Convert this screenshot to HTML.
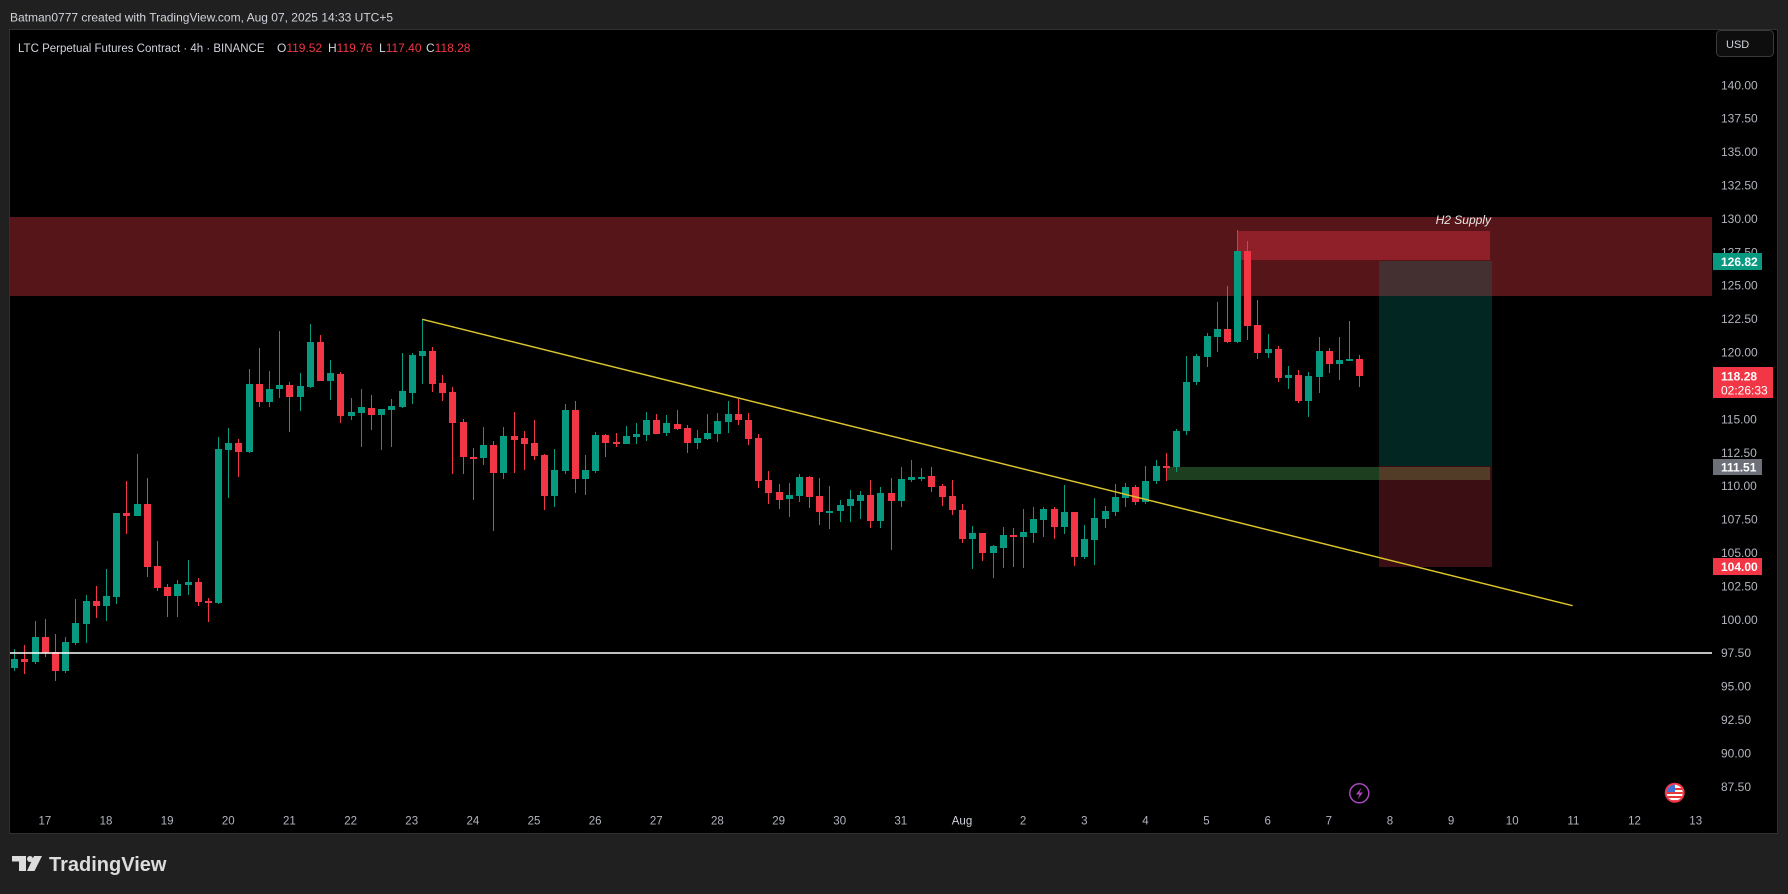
<!DOCTYPE html>
<html><head><meta charset="utf-8"><style>
html,body{margin:0;padding:0;background:#202020;width:1788px;height:894px;overflow:hidden}
svg{display:block}
</style></head><body>
<svg width="1788" height="894" viewBox="0 0 1788 894" xmlns="http://www.w3.org/2000/svg" font-family="'Liberation Sans', Arial, sans-serif">
<rect width="1788" height="894" fill="#202020"/>
<text x="10" y="21.5" font-size="12" fill="#d1d4dc">Batman0777 created with TradingView.com, Aug 07, 2025 14:33 UTC+5</text>
<rect x="9.5" y="29.5" width="1768" height="804" fill="#000" stroke="#313131"/>

<!-- zones -->
<rect x="10" y="217" width="1702" height="79" fill="rgb(86,21,24)"/>
<rect x="1237" y="231" width="253" height="29" fill="rgb(143,32,41)"/>
<rect x="1379" y="261" width="113" height="205" fill="rgb(2,38,34)"/>
<rect x="1379" y="261" width="113" height="35" fill="rgb(68,48,48)"/>
<rect x="1379" y="466" width="113" height="101" fill="rgb(58,14,18)"/>
<rect x="1166" y="467" width="324" height="13" fill="rgb(30,62,32)"/>
<rect x="1379" y="467" width="111" height="13" fill="rgb(82,60,40)"/>
<text x="1491" y="224" font-size="12" font-style="italic" fill="#e6e6e6" text-anchor="end">H2 Supply</text>

<!-- green candles -->
<path fill="#089981" d="M14 649h1v22h-1zM11 659h7v9h-7zM35 621h1v43h-1zM32 637h7v25h-7zM65 637h1v36h-1zM62 642h7v29h-7zM75 599h1v46h-1zM72 623h7v20h-7zM86 595h1v48h-1zM83 601h7v23h-7zM106 569h1v52h-1zM103 596h7v10h-7zM116 513h1v91h-1zM113 513h7v84h-7zM137 454h1v62h-1zM134 504h7v12h-7zM177 580h1v37h-1zM174 584h7v12h-7zM188 560h1v35h-1zM185 582h7v3h-7zM218 437h1v167h-1zM215 449h7v154h-7zM228 428h1v70h-1zM225 443h7v7h-7zM249 369h1v84h-1zM246 384h7v68h-7zM269 371h1v36h-1zM266 389h7v13h-7zM279 331h1v67h-1zM276 385h7v4h-7zM300 373h1v38h-1zM297 386h7v11h-7zM310 324h1v64h-1zM307 342h7v45h-7zM330 360h1v40h-1zM327 373h7v8h-7zM351 398h1v22h-1zM348 412h7v4h-7zM361 389h1v58h-1zM358 407h7v6h-7zM381 409h1v41h-1zM378 409h7v6h-7zM391 399h1v48h-1zM388 406h7v4h-7zM402 353h1v55h-1zM399 391h7v16h-7zM412 353h1v51h-1zM409 355h7v38h-7zM422 319h1v65h-1zM419 351h7v5h-7zM483 427h1v38h-1zM480 445h7v13h-7zM503 427h1v52h-1zM500 436h7v37h-7zM554 449h1v58h-1zM551 470h7v26h-7zM565 404h1v70h-1zM562 410h7v61h-7zM585 455h1v40h-1zM582 470h7v9h-7zM595 432h1v41h-1zM592 435h7v36h-7zM626 426h1v18h-1zM623 436h7v8h-7zM636 423h1v21h-1zM633 434h7v3h-7zM646 412h1v29h-1zM643 420h7v15h-7zM666 415h1v21h-1zM663 423h7v10h-7zM697 430h1v19h-1zM694 438h7v5h-7zM707 414h1v26h-1zM704 433h7v6h-7zM717 413h1v29h-1zM714 421h7v13h-7zM728 401h1v32h-1zM725 414h7v8h-7zM789 483h1v34h-1zM786 495h7v4h-7zM799 474h1v28h-1zM796 477h7v19h-7zM829 486h1v43h-1zM826 511h7v2h-7zM840 500h1v22h-1zM837 505h7v6h-7zM850 490h1v32h-1zM847 499h7v7h-7zM860 491h1v28h-1zM857 495h7v6h-7zM880 487h1v41h-1zM877 493h7v28h-7zM901 467h1v40h-1zM898 479h7v22h-7zM911 460h1v22h-1zM908 477h7v3h-7zM921 468h1v13h-1zM918 477h7v2h-7zM972 526h1v43h-1zM969 533h7v6h-7zM993 545h1v33h-1zM990 546h7v7h-7zM1003 527h1v41h-1zM1000 535h7v13h-7zM1023 509h1v59h-1zM1020 532h7v5h-7zM1033 507h1v36h-1zM1030 519h7v14h-7zM1043 507h1v30h-1zM1040 509h7v11h-7zM1064 485h1v49h-1zM1061 512h7v15h-7zM1084 525h1v34h-1zM1081 539h7v18h-7zM1094 498h1v67h-1zM1091 518h7v22h-7zM1105 506h1v22h-1zM1102 511h7v8h-7zM1115 484h1v32h-1zM1112 497h7v15h-7zM1125 483h1v24h-1zM1122 487h7v11h-7zM1145 466h1v38h-1zM1142 481h7v21h-7zM1156 460h1v24h-1zM1153 466h7v15h-7zM1176 429h1v43h-1zM1173 431h7v36h-7zM1186 356h1v79h-1zM1183 382h7v49h-7zM1196 354h1v31h-1zM1193 356h7v26h-7zM1207 333h1v34h-1zM1204 336h7v21h-7zM1217 302h1v50h-1zM1214 329h7v8h-7zM1237 230h1v113h-1zM1234 251h7v91h-7zM1268 334h1v24h-1zM1265 349h7v4h-7zM1288 366h1v23h-1zM1285 375h7v3h-7zM1308 372h1v45h-1zM1305 376h7v25h-7zM1319 337h1v56h-1zM1316 351h7v26h-7zM1339 337h1v43h-1zM1336 360h7v4h-7zM1349 321h1v40h-1zM1346 359h7v2h-7z"/>

<!-- red candles -->
<path fill="#f23645" d="M24 645h1v29h-1zM21 659h7v3h-7zM45 619h1v38h-1zM42 637h7v16h-7zM55 634h1v47h-1zM52 652h7v19h-7zM96 586h1v32h-1zM93 601h7v5h-7zM126 481h1v53h-1zM123 513h7v3h-7zM147 478h1v99h-1zM144 504h7v63h-7zM157 541h1v50h-1zM154 566h7v22h-7zM167 584h1v33h-1zM164 587h7v9h-7zM198 578h1v28h-1zM195 582h7v20h-7zM208 598h1v24h-1zM205 601h7v2h-7zM238 439h1v38h-1zM235 443h7v9h-7zM259 348h1v59h-1zM256 384h7v18h-7zM289 382h1v50h-1zM286 385h7v12h-7zM320 335h1v46h-1zM317 342h7v39h-7zM340 372h1v51h-1zM337 374h7v42h-7zM371 395h1v35h-1zM368 408h7v7h-7zM432 347h1v45h-1zM429 351h7v33h-7zM442 375h1v26h-1zM439 383h7v10h-7zM452 387h1v87h-1zM449 392h7v31h-7zM463 419h1v55h-1zM460 422h7v35h-7zM473 448h1v52h-1zM470 457h7v2h-7zM493 441h1v90h-1zM490 445h7v28h-7zM514 412h1v61h-1zM511 436h7v4h-7zM524 431h1v39h-1zM521 438h7v6h-7zM534 420h1v40h-1zM531 443h7v13h-7zM544 454h1v56h-1zM541 455h7v41h-7zM575 401h1v92h-1zM572 410h7v69h-7zM605 434h1v23h-1zM602 435h7v8h-7zM616 433h1v14h-1zM613 442h7v2h-7zM656 414h1v20h-1zM653 420h7v14h-7zM677 410h1v20h-1zM674 424h7v5h-7zM687 425h1v28h-1zM684 428h7v15h-7zM738 399h1v26h-1zM735 414h7v6h-7zM748 413h1v32h-1zM745 420h7v19h-7zM758 434h1v54h-1zM755 438h7v43h-7zM768 471h1v33h-1zM765 480h7v13h-7zM779 484h1v25h-1zM776 492h7v8h-7zM809 476h1v32h-1zM806 477h7v20h-7zM819 478h1v47h-1zM816 496h7v16h-7zM870 480h1v48h-1zM867 495h7v26h-7zM891 478h1v72h-1zM888 493h7v8h-7zM931 467h1v25h-1zM928 476h7v11h-7zM942 484h1v22h-1zM939 486h7v11h-7zM952 480h1v35h-1zM949 496h7v14h-7zM962 504h1v39h-1zM959 510h7v29h-7zM982 533h1v28h-1zM979 533h7v20h-7zM1013 528h1v39h-1zM1010 535h7v2h-7zM1054 507h1v32h-1zM1051 509h7v18h-7zM1074 512h1v54h-1zM1071 512h7v45h-7zM1135 485h1v20h-1zM1132 487h7v15h-7zM1166 453h1v28h-1zM1163 466h7v2h-7zM1227 286h1v57h-1zM1224 329h7v13h-7zM1247 241h1v99h-1zM1244 251h7v75h-7zM1257 300h1v59h-1zM1254 325h7v28h-7zM1278 346h1v36h-1zM1275 349h7v29h-7zM1298 370h1v33h-1zM1295 375h7v26h-7zM1329 348h1v25h-1zM1326 351h7v13h-7zM1359 355h1v32h-1zM1356 359h7v17h-7z"/>

<!-- lines -->
<line x1="422.3" y1="319.3" x2="1572.6" y2="605.7" stroke="#dcc52b" stroke-width="1.5"/>
<line x1="10" y1="653" x2="1712" y2="653" stroke="#ffffff" stroke-width="1.5"/>

<!-- legend -->
<g font-size="12" fill="#d1d4dc">
<text x="18" y="52" font-size="11.5">LTC Perpetual Futures Contract · 4h · BINANCE</text>
<text x="277" y="52">O<tspan fill="#f23645">119.52</tspan></text>
<text x="328" y="52">H<tspan fill="#f23645">119.76</tspan></text>
<text x="379" y="52">L<tspan fill="#f23645">117.40</tspan></text>
<text x="426" y="52">C<tspan fill="#f23645">118.28</tspan></text>
</g>

<!-- USD -->
<rect x="1716.5" y="30.5" width="57" height="26" rx="4" fill="#0e0e0e" stroke="#3a3a3a"/>
<text x="1726" y="48" font-size="11" fill="#d1d4dc">USD</text>

<!-- price axis -->
<g font-size="12" fill="#b2b5be">
<text x="1721" y="89.3">140.00</text>
<text x="1721" y="122.7">137.50</text>
<text x="1721" y="156.1">135.00</text>
<text x="1721" y="189.5">132.50</text>
<text x="1721" y="222.9">130.00</text>
<text x="1721" y="256.3">127.50</text>
<text x="1721" y="289.7">125.00</text>
<text x="1721" y="323.1">122.50</text>
<text x="1721" y="356.5">120.00</text>
<text x="1721" y="389.9">117.50</text>
<text x="1721" y="423.4">115.00</text>
<text x="1721" y="456.8">112.50</text>
<text x="1721" y="490.2">110.00</text>
<text x="1721" y="523.6">107.50</text>
<text x="1721" y="557">105.00</text>
<text x="1721" y="590.4">102.50</text>
<text x="1721" y="623.8">100.00</text>
<text x="1721" y="657.2">97.50</text>
<text x="1721" y="690.6">95.00</text>
<text x="1721" y="724">92.50</text>
<text x="1721" y="757.4">90.00</text>
<text x="1721" y="790.8">87.50</text>
</g>
<rect x="1713" y="253" width="49" height="17" fill="#089981"/>
<text x="1721" y="265.8" font-size="12" font-weight="bold" fill="#fff">126.82</text>
<rect x="1713" y="367" width="60" height="31" fill="#f23645"/>
<text x="1721" y="380.3" font-size="12" font-weight="bold" fill="#fff">118.28</text>
<text x="1721" y="394.3" font-size="12" fill="#fff">02:26:33</text>
<rect x="1713" y="459" width="49" height="16" fill="#6d7079"/>
<text x="1721" y="471.3" font-size="12" font-weight="bold" fill="#fff">111.51</text>
<rect x="1713" y="558" width="49" height="17" fill="#f23645"/>
<text x="1721" y="570.8" font-size="12" font-weight="bold" fill="#fff">104.00</text>

<!-- time axis -->
<g font-size="11.5" fill="#b2b5be" text-anchor="middle">
<text x="44.9" y="824.3">17</text>
<text x="106" y="824.3">18</text>
<text x="167.1" y="824.3">19</text>
<text x="228.3" y="824.3">20</text>
<text x="289.4" y="824.3">21</text>
<text x="350.6" y="824.3">22</text>
<text x="411.7" y="824.3">23</text>
<text x="472.9" y="824.3">24</text>
<text x="534" y="824.3">25</text>
<text x="595.1" y="824.3">26</text>
<text x="656.3" y="824.3">27</text>
<text x="717.4" y="824.3">28</text>
<text x="778.6" y="824.3">29</text>
<text x="839.7" y="824.3">30</text>
<text x="900.8" y="824.3">31</text>
<text x="962" y="824.3" fill="#d1d4dc">Aug</text>
<text x="1023.1" y="824.3">2</text>
<text x="1084.3" y="824.3">3</text>
<text x="1145.4" y="824.3">4</text>
<text x="1206.5" y="824.3">5</text>
<text x="1267.7" y="824.3">6</text>
<text x="1328.8" y="824.3">7</text>
<text x="1390" y="824.3">8</text>
<text x="1451.1" y="824.3">9</text>
<text x="1512.2" y="824.3">10</text>
<text x="1573.4" y="824.3">11</text>
<text x="1634.5" y="824.3">12</text>
<text x="1695.7" y="824.3">13</text>
</g>

<!-- event icons -->
<circle cx="1359.3" cy="793.3" r="9.5" fill="#000" stroke="#ab47bc" stroke-width="1.5"/>
<path d="M1361.5 787.5L1356 794.5H1359.5L1357.5 799.5L1363 792.5H1359.5Z" fill="#ab47bc"/>
<defs><clipPath id="fc"><circle cx="1674.7" cy="792.7" r="8"/></clipPath></defs>
<circle cx="1674.7" cy="792.7" r="10" fill="#f23645"/>
<g clip-path="url(#fc)">
<rect x="1666" y="784" width="18" height="18" fill="#fff"/>
<rect x="1666" y="788" width="18" height="2" fill="#e53935"/>
<rect x="1666" y="792" width="18" height="2" fill="#e53935"/>
<rect x="1666" y="796" width="18" height="2" fill="#e53935"/>
<rect x="1666" y="800" width="18" height="2" fill="#e53935"/>
<rect x="1666" y="784" width="9" height="8" fill="#3f6fd8"/>
</g>

<!-- logo -->
<g fill="#dcdcdc">
<rect x="12" y="856" width="14" height="5.5"/>
<rect x="19" y="856" width="7" height="15"/>
<circle cx="30" cy="859" r="3"/>
<polygon points="34,856 42,856 34.5,871 27,871"/>
<text x="49" y="871" font-size="20" font-weight="bold">TradingView</text>
</g>
</svg>
</body></html>
